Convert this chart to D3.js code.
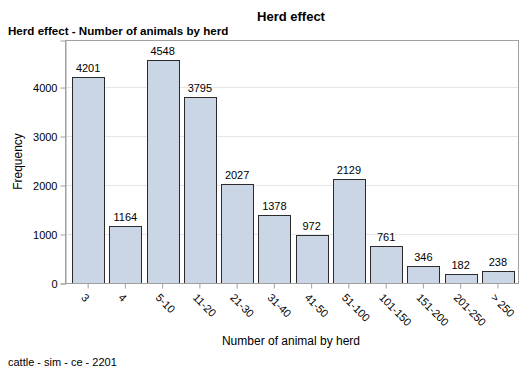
<!DOCTYPE html>
<html lang="en">
<head>
<meta charset="UTF-8">
<title>Herd effect</title>
<script src="https://cdnjs.cloudflare.com/ajax/libs/d3/7.8.5/d3.min.js"></script>
<style>
  body { margin: 0; background: #fff; }
  text { font-family: Arial, "Liberation Sans", sans-serif; fill: #000; }
</style>
</head>
<body>
<div id="chart"></div>
<script>
var herdSize = ["3", "4", "5-10", "11-20", "21-30", "31-40", "41-50", "51-100", "101-150", "151-200", "201-250", "> 250"];
var frequency = [4201, 1164, 4548, 3795, 2027, 1378, 972, 2129, 761, 346, 182, 238];
var yTicks = [0, 1000, 2000, 3000, 4000];

var width = 529, height = 378;
var plotLeft = 65, plotRight = 518, plotTop = 40, plotBottom = 283;

var svg = d3.select("#chart").append("svg")
    .attr("width", width)
    .attr("height", height);

svg.append("rect").attr("width", width).attr("height", height).attr("fill", "#fff");

var x = d3.scaleBand()
    .domain(herdSize)
    .range([69.5, 516.5])
    .paddingInner(0.14)
    .paddingOuter(0.07);

var y = d3.scaleLinear()
    .domain([0, 4960])
    .range([plotBottom, plotTop]);

// gridlines
svg.selectAll("line.grid")
    .data(yTicks.slice(1))
    .enter().append("line")
    .attr("x1", plotLeft).attr("x2", plotRight)
    .attr("y1", function(d) { return Math.round(y(d)) + 0.5; })
    .attr("y2", function(d) { return Math.round(y(d)) + 0.5; })
    .attr("stroke", "#e6e6e6");

// frame
svg.append("rect")
    .attr("x", plotLeft + 0.5).attr("y", plotTop + 0.5)
    .attr("width", plotRight - plotLeft).attr("height", plotBottom - plotTop)
    .attr("fill", "none")
    .attr("stroke", "#a0a0a0");

// bars
svg.selectAll("rect.bar")
    .data(frequency)
    .enter().append("rect")
    .attr("class", "bar")
    .attr("x", function(d, i) { return Math.round(x(herdSize[i])) + 0.5; })
    .attr("y", function(d) { return Math.round(y(d)) + 0.5; })
    .attr("width", Math.round(x.bandwidth()))
    .attr("height", function(d) { return Math.round(y(0)) - Math.round(y(d)); })
    .attr("fill", "#cad5e5")
    .attr("stroke", "#2b2b2b")
    .attr("stroke-width", 1);

// value labels
svg.selectAll("text.val")
    .data(frequency)
    .enter().append("text")
    .attr("x", function(d, i) { return x(herdSize[i]) + x.bandwidth() / 2; })
    .attr("y", function(d) { return y(d) - 5; })
    .attr("text-anchor", "middle")
    .style("font-size", "11px")
    .text(function(d) { return d; });

// y axis
var yAxis = svg.append("g")
    .attr("transform", "translate(" + (plotLeft + 0.5) + ",0.5)")
    .call(d3.axisLeft(y).tickValues(yTicks).tickSize(5).tickPadding(3).tickFormat(d3.format("d")));
yAxis.select(".domain").attr("stroke", "#a0a0a0");
yAxis.selectAll(".tick line").attr("stroke", "#a0a0a0");
yAxis.selectAll(".tick text").style("font-size", "11px").style("font-family", "Arial, 'Liberation Sans', sans-serif").attr("fill", "#000");

// x axis
var xAxis = svg.append("g")
    .attr("transform", "translate(0," + (plotBottom + 0.5) + ")")
    .call(d3.axisBottom(x).tickSize(5).tickSizeOuter(0));
xAxis.select(".domain").attr("stroke", "#a0a0a0").attr("d", "M" + plotLeft + ",0H" + (plotRight + 0.5));
xAxis.selectAll(".tick line").attr("stroke", "#a0a0a0");
xAxis.selectAll(".tick text")
    .style("font-size", "11px")
    .style("font-family", "Arial, 'Liberation Sans', sans-serif")
    .attr("fill", "#000")
    .attr("text-anchor", "start")
    .attr("dy", "0.35em")
    .attr("transform", "translate(-5,12) rotate(45)")
    .attr("x", 0).attr("y", 0);

// titles
svg.append("text")
    .attr("x", 291).attr("y", 21)
    .attr("text-anchor", "middle")
    .style("font-size", "13px").style("font-weight", "bold")
    .text("Herd effect");

svg.append("text")
    .attr("x", 8).attr("y", 35)
    .style("font-size", "11.6px").style("font-weight", "bold")
    .text("Herd effect - Number of animals by herd");

svg.append("text")
    .attr("transform", "translate(22," + ((plotTop + plotBottom) / 2) + ") rotate(-90)")
    .attr("text-anchor", "middle")
    .style("font-size", "12px")
    .text("Frequency");

svg.append("text")
    .attr("x", 291).attr("y", 345)
    .attr("text-anchor", "middle")
    .style("font-size", "12px")
    .text("Number of animal by herd");

svg.append("text")
    .attr("x", 8).attr("y", 366)
    .style("font-size", "11px")
    .text("cattle - sim - ce - 2201");
</script>
</body>
</html>
